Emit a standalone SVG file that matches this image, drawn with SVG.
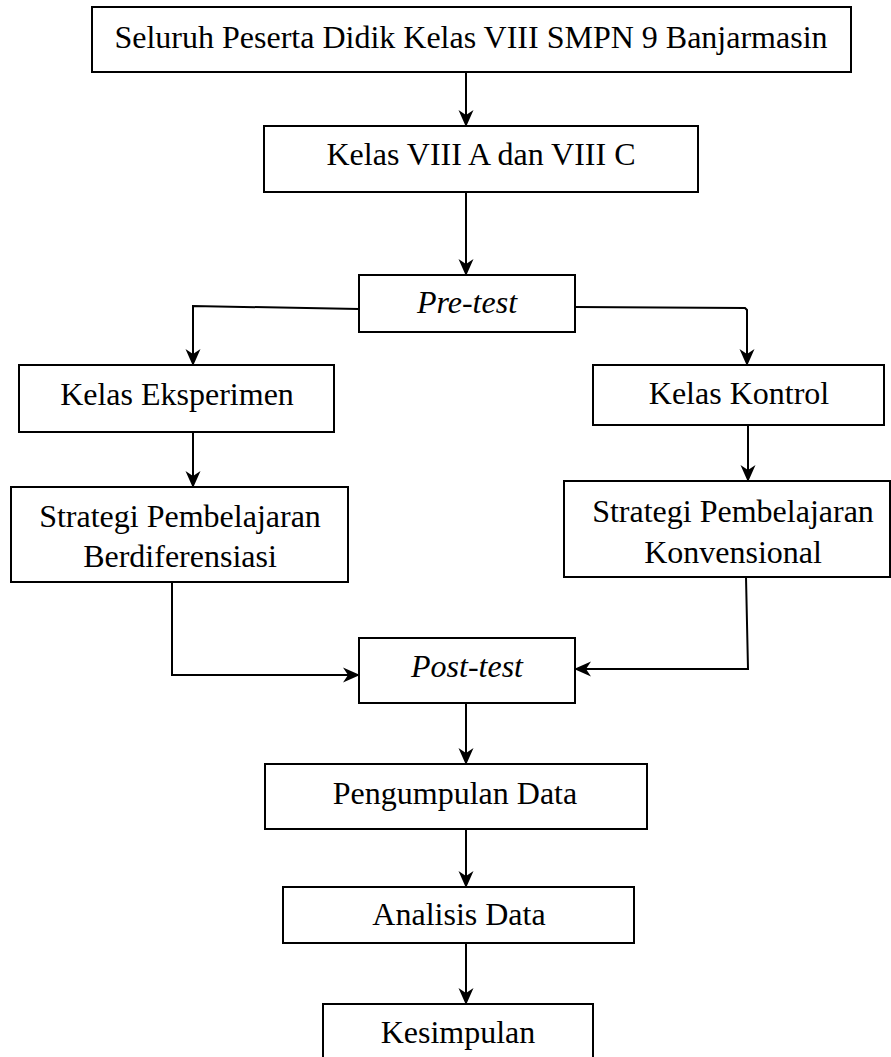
<svg xmlns="http://www.w3.org/2000/svg" width="891" height="1057" viewBox="0 0 891 1057">
<style>
  .box { fill: #ffffff; stroke: #000000; stroke-width: 2; }
  .t { font-family: 'Liberation Serif', 'Times New Roman', Times, 'DejaVu Serif', serif; font-size: 32px; fill: #000000; text-anchor: middle; }
  .it { font-style: italic; }
  .con { fill: none; stroke: #000000; stroke-width: 2; marker-end: url(#arr); }
</style>
<defs>
  <marker id="arr" markerUnits="userSpaceOnUse" markerWidth="20" markerHeight="18" refX="0" refY="0" viewBox="-18 -9 20 18" orient="auto" overflow="visible">
    <path d="M1,0 L-16,-7.5 L-11,0 L-16,7.5 Z" fill="#000000"/>
  </marker>
</defs>
<rect width="891" height="1057" fill="#ffffff"/>
<g id="connectors">
  <path class="con" d="M466,72 L466,126"/>
  <path class="con" d="M466,192 L466,275"/>
  <path class="con" d="M359,309 L193,306 L193,365"/>
  <path class="con" d="M575,307 L745,308 L747,310 L747,365"/>
  <path class="con" d="M193,432 L193,487"/>
  <path class="con" d="M748,425 L748,481"/>
  <path class="con" d="M172,582 L172,675 L359,675"/>
  <path class="con" d="M746,577 L748,669 L575,669"/>
  <path class="con" d="M466,703 L466,764"/>
  <path class="con" d="M466,829 L466,887"/>
  <path class="con" d="M466,943 L466,1004"/>
</g>
<g id="n1">
  <rect class="box" x="92" y="7" width="759" height="65"/>
  <text class="t" font-family="Liberation Serif, serif" x="471" y="48">Seluruh Peserta Didik Kelas VIII SMPN 9 Banjarmasin</text>
</g>
<g id="n2">
  <rect class="box" x="264" y="126" width="434" height="66"/>
  <text class="t" font-family="Liberation Serif, serif" x="481" y="165">Kelas VIII A dan VIII C</text>
</g>
<g id="n3">
  <rect class="box" x="359" y="275" width="216" height="57"/>
  <text class="t it" font-family="Liberation Serif, serif" x="467" y="313">Pre-test</text>
</g>
<g id="n4">
  <rect class="box" x="19" y="365" width="315" height="67"/>
  <text class="t" font-family="Liberation Serif, serif" x="177" y="405">Kelas Eksperimen</text>
</g>
<g id="n5">
  <rect class="box" x="593" y="365" width="291" height="60"/>
  <text class="t" font-family="Liberation Serif, serif" x="739" y="404">Kelas Kontrol</text>
</g>
<g id="n6">
  <rect class="box" x="11" y="487" width="337" height="95"/>
  <text class="t" font-family="Liberation Serif, serif" x="180" y="527">Strategi Pembelajaran</text>
  <text class="t" font-family="Liberation Serif, serif" x="180" y="567">Berdiferensiasi</text>
</g>
<g id="n7">
  <rect class="box" x="564" y="481" width="326" height="96"/>
  <text class="t" font-family="Liberation Serif, serif" x="733" y="522">Strategi Pembelajaran</text>
  <text class="t" font-family="Liberation Serif, serif" x="733" y="563">Konvensional</text>
</g>
<g id="n8">
  <rect class="box" x="359" y="638" width="216" height="65"/>
  <text class="t it" font-family="Liberation Serif, serif" x="467" y="677">Post-test</text>
</g>
<g id="n9">
  <rect class="box" x="265" y="764" width="382" height="65"/>
  <text class="t" font-family="Liberation Serif, serif" x="455" y="804">Pengumpulan Data</text>
</g>
<g id="n10">
  <rect class="box" x="283" y="887" width="351" height="56"/>
  <text class="t" font-family="Liberation Serif, serif" x="459" y="925">Analisis Data</text>
</g>
<g id="n11">
  <rect class="box" x="323" y="1004" width="270" height="70"/>
  <text class="t" font-family="Liberation Serif, serif" x="458" y="1043">Kesimpulan</text>
</g>
</svg>
